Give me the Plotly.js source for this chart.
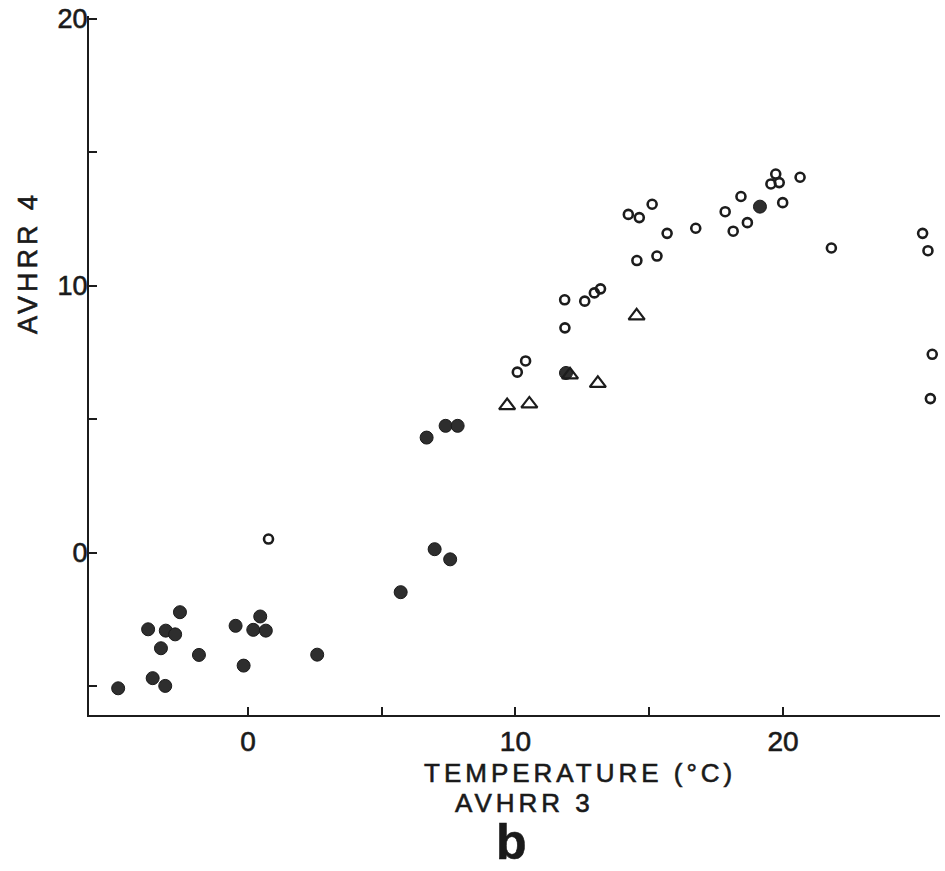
<!DOCTYPE html>
<html>
<head>
<meta charset="utf-8">
<script src="https://cdn.plot.ly/plotly-3.0.1.min.js"></script>
<style>
  html, body { margin: 0; padding: 0; background: #fff; }
  #chart { width: 945px; height: 871px; }
  .annotation text { letter-spacing: 4px; }
  .annotation text, .xtick text, .ytick text { stroke: #1a1a1a; stroke-width: 0.6px; }
</style>
</head>
<body>
<div id="chart"></div>
<script>
// Filled circles
var filledX = [-4.85, -3.73, -3.56, -3.25, -3.09, -3.07, -2.72, -2.54, -1.83, -0.46, -0.16, 0.20, 0.46, 0.67, 2.59, 5.71, 6.98, 7.56, 6.68, 7.39, 7.84, 11.89, 19.14];
var filledY = [-5.07, -2.86, -4.69, -3.57, -4.98, -2.91, -3.05, -2.22, -3.82, -2.73, -4.22, -2.88, -2.38, -2.91, -3.81, -1.47, 0.14, -0.24, 4.32, 4.76, 4.76, 6.74, 12.97];
// Open circles
var openX = [0.77, 10.07, 10.38, 11.85, 11.84, 12.59, 12.95, 13.18, 14.54, 15.29, 14.22, 14.63, 15.11, 15.67, 16.74, 17.84, 18.14, 18.43, 18.67, 19.55, 19.73, 19.86, 19.99, 20.64, 21.81, 25.22, 25.42, 25.58, 25.51];
var openY = [0.52, 6.77, 7.19, 8.43, 9.48, 9.43, 9.74, 9.89, 10.95, 11.12, 12.68, 12.56, 13.06, 11.97, 12.16, 12.78, 12.05, 13.35, 12.37, 13.82, 14.19, 13.87, 13.12, 14.07, 11.42, 11.97, 11.32, 7.44, 5.78];
// Open triangles
var triX = [9.69, 10.52, 12.04, 13.08, 14.53];
var triY = [5.52, 5.58, 6.67, 6.35, 8.88];

var xTickVals = [0, 5, 10, 15, 20];
var xTickText = ['0', '', '10', '', '20'];
var yTickVals = [-5, 0, 5, 10, 15, 20];
var yTickText = ['', '0', '', '10', '', '20'];

var ink = '#1c1c1c';
var fontFam = '"Liberation Sans", Arial, sans-serif';

var traces = [
  {
    x: filledX, y: filledY, type: 'scatter', mode: 'markers',
    marker: { symbol: 'circle', size: 13, color: '#2e2e2e', line: { color: '#1a1a1a', width: 1 } },
    hoverinfo: 'x+y', cliponaxis: false
  },
  {
    x: openX, y: openY, type: 'scatter', mode: 'markers',
    marker: { symbol: 'circle-open', size: 9, color: ink, line: { color: ink, width: 2.6 } },
    hoverinfo: 'x+y', cliponaxis: false
  },
  {
    x: triX, y: triY, type: 'scatter', mode: 'markers',
    marker: { symbol: 'triangle-up-open', size: 14, color: ink, line: { color: ink, width: 2.2 } },
    hoverinfo: 'x+y', cliponaxis: false
  }
];

var axisCommon = {
  showline: true, linewidth: 2, linecolor: ink,
  showgrid: false, zeroline: false,
  ticks: 'inside', ticklen: 8, tickwidth: 2, tickcolor: ink,
  tickmode: 'array'
};

var layout = {
  width: 945, height: 871,
  paper_bgcolor: '#ffffff', plot_bgcolor: '#ffffff',
  showlegend: false,
  margin: { l: 89, r: 5, t: 16, b: 156 },
  xaxis: Object.assign({}, axisCommon, {
    range: [-5.94, 25.87],
    tickvals: xTickVals, ticktext: xTickText,
    tickfont: { family: fontFam, size: 28, color: '#1a1a1a' },
    ticklabelstandoff: 0
  }),
  yaxis: Object.assign({}, axisCommon, {
    range: [-6.07, 20.11],
    tickvals: yTickVals, ticktext: yTickText,
    tickfont: { family: fontFam, size: 27, color: '#1a1a1a' },
    ticklabelstandoff: -6
  }),
  annotations: [
    {
      text: 'TEMPERATURE (°C)', xref: 'paper', yref: 'paper', x: 0.577, y: -0.083,
      xanchor: 'center', yanchor: 'middle', showarrow: false,
      font: { family: fontFam, size: 26, color: '#1a1a1a' }
    },
    {
      text: 'AVHRR 3', xref: 'paper', yref: 'paper', x: 0.512, y: -0.126,
      xanchor: 'center', yanchor: 'middle', showarrow: false,
      font: { family: fontFam, size: 26, color: '#1a1a1a' }
    },
    {
      text: 'b', xref: 'paper', yref: 'paper', x: 0.499, y: -0.181,
      xanchor: 'center', yanchor: 'middle', showarrow: false,
      font: { family: fontFam, size: 50, color: '#1a1a1a', weight: 'bold' }
    },
    {
      text: 'AVHRR 4', xref: 'paper', yref: 'paper', x: -0.0717, y: 0.648,
      xanchor: 'center', yanchor: 'middle', showarrow: false, textangle: -90,
      font: { family: fontFam, size: 27, color: '#1a1a1a' }
    }
  ]
};

Plotly.newPlot('chart', traces, layout, { staticPlot: true, displayModeBar: false });
</script>
</body>
</html>
